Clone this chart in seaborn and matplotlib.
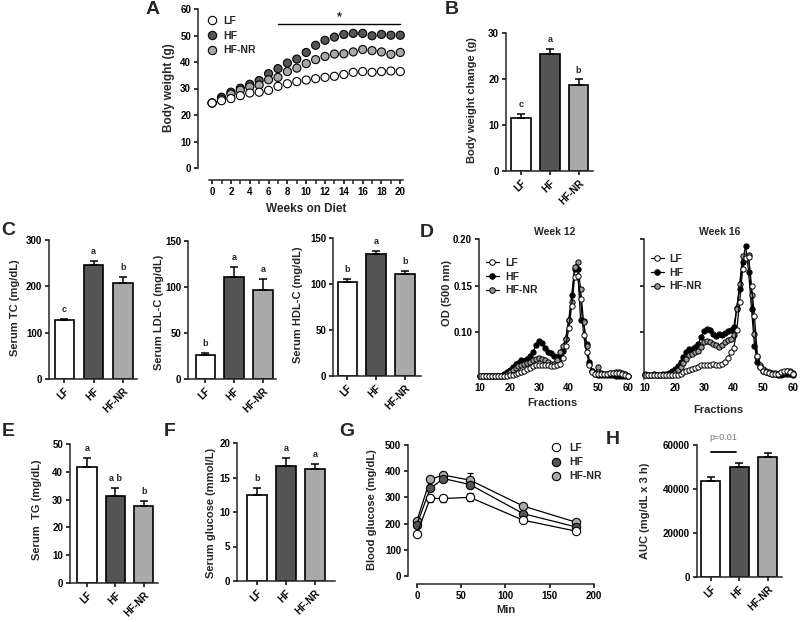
import numpy as np
import pandas as pd
import matplotlib
matplotlib.use("Agg")
import matplotlib.pyplot as plt
import seaborn as sns
from matplotlib.lines import Line2D

# ---------- dados ----------
groups = ["LF", "HF", "HF-NR"]

# A - peso corporal
weeks = list(range(21))
bw_lf = [24.5, 25.4, 26.2, 27.3, 28.3, 28.6, 29.3, 30.8, 31.8, 32.6, 33.2,
         33.7, 34.2, 34.6, 35.3, 36.1, 36.4, 36.1, 36.4, 36.6, 36.4]
bw_hf = [24.6, 26.7, 28.6, 30.1, 31.6, 33.0, 35.6, 37.5, 39.6, 41.1, 43.6,
         46.3, 48.2, 49.4, 50.4, 50.8, 50.8, 49.9, 50.4, 50.1, 50.1]
bw_nr = [24.5, 26.0, 27.9, 29.4, 30.6, 31.3, 33.3, 34.2, 36.4, 37.7, 39.4,
         40.9, 42.1, 43.0, 43.1, 43.8, 44.7, 44.3, 43.8, 42.9, 43.6]

# B
bw_change = [11.6, 25.4, 18.8]
bw_change_err = [0.9, 1.2, 1.1]
bw_change_letters = ["c", "a", "b"]

# C
tc = [127, 245, 207]
tc_err = [3, 10, 14]
tc_letters = ["c", "a", "b"]
ldl = [26, 111, 96.5]
ldl_err = [2.5, 11, 12.5]
ldl_letters = ["b", "a", "a"]
hdl = [102, 133, 111]
hdl_err = [3.5, 3, 3]
hdl_letters = ["b", "a", "b"]

# D - FPLC
fractions = list(range(10, 61))
w12_lf = [0.053] * 9 + [0.053, 0.054, 0.054, 0.055, 0.056, 0.057, 0.058, 0.060, 0.061,
          0.063, 0.064, 0.065, 0.065, 0.065, 0.064, 0.063, 0.063, 0.064, 0.066, 0.072,
          0.085, 0.104, 0.128, 0.159, 0.160, 0.136, 0.097, 0.078, 0.065, 0.057, 0.055,
          0.055, 0.055, 0.055, 0.055, 0.056, 0.056, 0.056, 0.056, 0.055, 0.054, 0.053]
w12_hf = [0.053] * 8 + [0.055, 0.057, 0.059, 0.062, 0.066, 0.067, 0.070, 0.069, 0.071,
          0.074, 0.079, 0.086, 0.090, 0.088, 0.083, 0.079, 0.077, 0.074, 0.073, 0.073,
          0.080, 0.093, 0.113, 0.140, 0.168, 0.168, 0.113, 0.112, 0.087, 0.068, 0.058,
          0.055, 0.054, 0.054, 0.054, 0.054, 0.054, 0.054, 0.053, 0.053, 0.053, 0.053, 0.053]
w12_nr = [0.053] * 9 + [0.055, 0.057, 0.059, 0.061, 0.063, 0.065, 0.066, 0.067, 0.068,
          0.070, 0.071, 0.072, 0.071, 0.070, 0.068, 0.066, 0.066, 0.070, 0.079, 0.085,
          0.093, 0.113, 0.132, 0.170, 0.175, 0.146, 0.111, 0.085, 0.066, 0.058, 0.056,
          0.062, 0.056, 0.055, 0.055, 0.056, 0.056, 0.057, 0.057, 0.056, 0.055, 0.053]
w16_lf = [0.054] * 12 + [0.055, 0.057, 0.058, 0.059, 0.060, 0.061, 0.062, 0.064, 0.065,
          0.064, 0.065, 0.066, 0.065, 0.064, 0.066, 0.068, 0.072, 0.078, 0.083, 0.102,
          0.132, 0.168, 0.180, 0.181, 0.150, 0.117, 0.074, 0.062, 0.058, 0.057, 0.056,
          0.055, 0.055, 0.055, 0.057, 0.058, 0.058, 0.057, 0.055]
w16_hf = [0.055, 0.054, 0.054, 0.055, 0.054, 0.054, 0.055, 0.055, 0.056, 0.058, 0.060,
          0.063, 0.068, 0.073, 0.079, 0.082, 0.082, 0.084, 0.087, 0.095, 0.101, 0.103,
          0.102, 0.098, 0.096, 0.098, 0.097, 0.099, 0.101, 0.102, 0.105, 0.126, 0.146,
          0.175, 0.193, 0.165, 0.125, 0.085, 0.068, 0.062, 0.058, 0.057, 0.056, 0.055,
          0.055, 0.054, 0.054, 0.055, 0.055, 0.055, 0.054]
w16_nr = [0.054] * 10 + [0.056, 0.059, 0.062, 0.067, 0.071, 0.075, 0.076, 0.079, 0.080,
          0.084, 0.089, 0.090, 0.089, 0.087, 0.086, 0.084, 0.086, 0.089, 0.091, 0.093,
          0.097, 0.125, 0.152, 0.182, 0.182, 0.183, 0.140, 0.098, 0.073, 0.064, 0.060,
          0.058, 0.057, 0.056, 0.056, 0.055, 0.056, 0.057, 0.058, 0.058, 0.056]

# E, F
tg = [41.8, 31.3, 27.6]
tg_err = [3.1, 3.0, 1.9]
tg_letters = ["a", "a b", "b"]
glucose = [12.4, 16.7, 16.2]
glucose_err = [1.1, 1.1, 0.8]
glucose_letters = ["b", "a", "a"]

# G - GTT
gtt_time = [0, 15, 30, 60, 120, 180]
gtt_lf = [161, 296, 296, 300, 213, 171]
gtt_lf_err = [5, 15, 15, 15, 7, 6]
gtt_hf = [196, 334, 372, 349, 238, 187]
gtt_hf_err = [7, 10, 15, 12, 8, 6]
gtt_nr = [210, 369, 385, 366, 267, 205]
gtt_nr_err = [7, 10, 10, 27, 8, 6]

# H
auc = [43700, 50100, 54400]
auc_err = [1800, 1900, 2100]

# ---------- estilo ----------
W, H = 800, 622
fill = {"LF": "white", "HF": "#555555", "HF-NR": "#a9a9a9"}
fill_d = {"LF": "white", "HF": "black", "HF-NR": "#9a9a9a"}

sns.set_theme(style="ticks")
plt.rcParams["font.family"] = ["Liberation Sans", "DejaVu Sans"]
plt.rcParams["font.weight"] = "bold"
plt.rcParams["axes.labelweight"] = "bold"
plt.rcParams["axes.linewidth"] = 1.1

fig = plt.figure(figsize=(8, 6.22), dpi=100)


def px_rect(x0, y0, x1, y1):
    return [x0 / W, 1 - y1 / H, (x1 - x0) / W, (y1 - y0) / H]


def fxy(px, py):
    return px / W, 1 - py / H


def style(ax):
    ax.tick_params(labelsize=7, width=1.1, length=3, pad=2, colors="black")
    sns.despine(ax=ax)


def ylabel_at(ax, text, px, py, size=8):
    lbl = ax.set_ylabel(text, fontsize=size, fontweight="bold")
    ax.yaxis.set_label_coords(*fxy(px, py), transform=fig.transFigure)
    lbl.set_verticalalignment("center")


def xlabel_at(ax, text, px, py, size=8):
    lbl = ax.set_xlabel(text, fontsize=size, fontweight="bold")
    ax.xaxis.set_label_coords(*fxy(px, py), transform=fig.transFigure)
    lbl.set_verticalalignment("center")


def panel_letter(t, px, py):
    fig.text(*fxy(px, py), t, fontsize=14, fontweight="bold", ha="center", va="center")


def bar_panel(box, values, errs, letters, ymax, yticks, ylab, lab_xy, xlim=(-0.55, 2.5)):
    ax = fig.add_axes(px_rect(*box))
    df = pd.DataFrame({"group": groups, "value": values})
    sns.barplot(data=df, x="group", y="value", hue="group", palette=fill, saturation=1,
                width=0.68, edgecolor="black", linewidth=1.2, legend=False, ax=ax)
    ax.errorbar([0, 1, 2], values, yerr=[[0, 0, 0], errs], fmt="none", ecolor="black",
                elinewidth=1.1, capsize=3.2, capthick=1.1, zorder=3)
    if letters:
        for i in range(3):
            ax.text(i, values[i] + errs[i] + ymax * 0.035, letters[i], ha="center",
                    va="bottom", fontsize=6.5, fontweight="bold")
    ax.set_ylim(0, ymax)
    ax.set_yticks(yticks)
    ax.set_xlim(*xlim)
    ax.set_xticks([0, 1, 2])
    ax.set_xticklabels(groups, rotation=45, ha="right", rotation_mode="anchor")
    ax.set_xlabel("")
    style(ax)
    ylabel_at(ax, ylab, *lab_xy)
    return ax


# ---------- A ----------
axA = fig.add_axes(px_rect(198, 9, 405, 168))
dfA = pd.DataFrame({
    "week": weeks * 3,
    "bw": bw_hf + bw_nr + bw_lf,
    "group": ["HF"] * 21 + ["HF-NR"] * 21 + ["LF"] * 21,
})
sns.scatterplot(data=dfA, x="week", y="bw", hue="group", palette=fill, s=34,
                edgecolor="black", linewidth=0.8, legend=False, ax=axA, zorder=3)
axA.set_xlim(-1.5, 20.5)
axA.set_ylim(0, 60)
axA.set_yticks(range(0, 61, 10))
axA.set_xticks(range(0, 21, 2))
axA.set_xticks(range(1, 21, 2), minor=True)
axA.tick_params(which="minor", length=3, width=1.1)
style(axA)
axA.spines["bottom"].set_position(("outward", 8.5))
axA.spines["bottom"].set_bounds(-0.3, 20.3)
axA.plot([7, 20], [54.3, 54.3], color="black", lw=1)
axA.text(13.5, 54.6, "*", ha="center", va="bottom", fontsize=9, fontweight="bold")
hA = [Line2D([], [], ls="none", marker="o", ms=6, mfc=fill[g], mec="black", mew=0.8)
      for g in groups]
axA.legend(hA, groups, loc="upper left", bbox_to_anchor=fxy(207, 16),
           bbox_transform=fig.transFigure, frameon=False, fontsize=7.5, borderpad=0,
           handlelength=1.0, handletextpad=0.6, labelspacing=0.45, borderaxespad=0)
ylabel_at(axA, "Body weight (g)", 169, 88, 8.5)
xlabel_at(axA, "Weeks on Diet", 306, 209, 8.5)
panel_letter("A", 153, 10)

# ---------- B ----------
bar_panel((506, 33, 593, 171), bw_change, bw_change_err, bw_change_letters, 30,
          range(0, 31, 10), "Body weight change (g)", (472, 100), xlim=(-0.52, 2.5))
panel_letter("B", 452, 10)

# ---------- C ----------
bar_panel((49, 240, 137, 379), tc, tc_err, tc_letters, 300, range(0, 301, 100),
          "Serum TC (mg/dL)", (15, 308), xlim=(-0.53, 2.49))
bar_panel((188, 241, 276, 379), ldl, ldl_err, ldl_letters, 150, range(0, 151, 50),
          "Serum LDL-C (mg/dL)", (159, 312), xlim=(-0.6, 2.45))
bar_panel((333, 238, 421, 376), hdl, hdl_err, hdl_letters, 150, range(0, 151, 50),
          "Serum HDL-C (mg/dL)", (298, 305), xlim=(-0.5, 2.55))
panel_letter("C", 8, 231)

# ---------- D ----------
d_sets = [
    ((479, 239, 630, 378.5), "Week 12", w12_lf, w12_hf, w12_nr, 552, 403),
    ((644, 239, 795, 378.5), "Week 16", w16_lf, w16_hf, w16_nr, 718, 410),
]
for k, (box, title, lf, hf, nr, fx, fy) in enumerate(d_sets):
    ax = fig.add_axes(px_rect(*box))
    for g, vals in [("HF", hf), ("HF-NR", nr), ("LF", lf)]:
        sns.lineplot(x=fractions, y=vals, color="black", linewidth=0.9, marker="o",
                     markersize=3.8, markerfacecolor=fill_d[g], markeredgecolor="black",
                     markeredgewidth=0.7, ax=ax, clip_on=False)
    ax.set_xlim(9.66, 60.7)
    ax.set_ylim(0.05, 0.20)
    ax.set_yticks([0.10, 0.15, 0.20])
    ax.set_xticks(range(10, 61, 10))
    style(ax)
    ax.spines["bottom"].set_visible(False)
    ax.tick_params(axis="x", length=0, pad=3)
    if k == 0:
        ax.set_yticklabels(["0.10", "0.15", "0.20"])
        ylabel_at(ax, "OD (500 nm)", 447, 293)
    else:
        ax.set_yticklabels([])
        ax.set_ylabel("")
    xlabel_at(ax, "Fractions", fx, fy)
    ax.set_title(title, fontsize=7.5, fontweight="bold", pad=3)
    hD = [Line2D([], [], color="black", lw=0.9, marker="o", ms=4, mfc=fill_d[g],
                 mec="black", mew=0.7) for g in groups]
    lx = 486 if k == 0 else 651
    ax.legend(hD, groups, loc="upper left", bbox_to_anchor=fxy(lx, 258 if k == 0 else 254),
              bbox_transform=fig.transFigure, frameon=False, fontsize=7.5, borderpad=0,
              handlelength=1.2, handletextpad=0.6, labelspacing=0.35, borderaxespad=0)
panel_letter("D", 427, 232)

# ---------- E, F ----------
bar_panel((70, 444, 158, 583), tg, tg_err, tg_letters, 50, range(0, 51, 10),
          "Serum  TG (mg/dL)", (37, 510), xlim=(-0.6, 2.5))
panel_letter("E", 8, 432)
bar_panel((237, 443, 335, 581), glucose, glucose_err, glucose_letters, 20,
          range(0, 21, 5), "Serum glucose (mmol/L)", (211, 513), xlim=(-0.7, 2.7))
panel_letter("F", 170, 432)

# ---------- G ----------
axG = fig.add_axes(px_rect(408, 445, 594, 576))
for g, vals, errs in [("HF-NR", gtt_nr, gtt_nr_err), ("HF", gtt_hf, gtt_hf_err),
                      ("LF", gtt_lf, gtt_lf_err)]:
    axG.errorbar(gtt_time, vals, yerr=errs, fmt="none", ecolor="black", elinewidth=0.9,
                 capsize=2.5, capthick=0.9, zorder=2)
    sns.lineplot(x=gtt_time, y=vals, color="black", linewidth=0.9, marker="o",
                 markersize=6, markerfacecolor=fill[g], markeredgecolor="black",
                 markeredgewidth=0.8, ax=axG, zorder=3, clip_on=False)
axG.set_xlim(-10, 200)
axG.set_ylim(0, 500)
axG.set_yticks(range(0, 501, 100))
axG.set_xticks(range(0, 201, 50))
style(axG)
axG.spines["bottom"].set_position(("outward", 6))
axG.spines["bottom"].set_bounds(0, 200)
hG = [Line2D([], [], ls="none", marker="o", ms=6, mfc=fill[g], mec="black", mew=0.8)
      for g in groups]
axG.legend(hG, groups, loc="upper left", bbox_to_anchor=fxy(551, 443),
           bbox_transform=fig.transFigure, frameon=False, fontsize=7.5, borderpad=0,
           handlelength=1.0, handletextpad=0.8, labelspacing=0.4, borderaxespad=0)
ylabel_at(axG, "Blood glucose (mg/dL)", 372, 510)
xlabel_at(axG, "Min", 506, 610)
panel_letter("G", 347, 432)

# ---------- H ----------
axH = bar_panel((697, 445, 782, 577), auc, auc_err, None, 60000,
                range(0, 60001, 20000), "AUC (mg/dL x 3 h)", (645, 511), xlim=(-0.48, 2.5))
axH.plot([0.0, 0.9], [57000, 57000], color="black", lw=1.3, clip_on=False)
axH.text(0.45, 61500, "p=0.01", ha="center", va="bottom", fontsize=6.5,
         color="#777777", fontweight="normal", clip_on=False)
panel_letter("H", 613, 439)

fig.savefig("out.png", dpi=100)
